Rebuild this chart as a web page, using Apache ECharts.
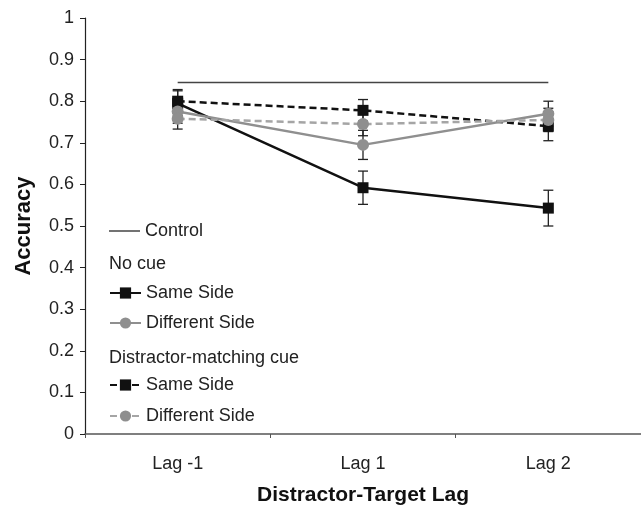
<!DOCTYPE html>
<html>
<head>
<meta charset="utf-8">
<script src="https://cdn.jsdelivr.net/npm/echarts@6/dist/echarts.min.js"></script>
<style>
  html, body { margin: 0; padding: 0; background: #fff; }
  #chart { width: 641px; height: 511px; }
</style>
</head>
<body>
<div id="chart"></div>
<script>
const lags = ['Lag -1', 'Lag 1', 'Lag 2'];

// accuracy per lag
const control = [0.845, 0.845, 0.845];
const noCueSame = [0.795, 0.592, 0.543];
const noCueSameErr = [0.03, 0.04, 0.043];
const noCueDiff = [0.775, 0.695, 0.77];
const noCueDiffErr = [0.028, 0.035, 0.03];
const cueSame = [0.80, 0.778, 0.74];
const cueSameErr = [0.028, 0.026, 0.035];
const cueDiff = [0.758, 0.745, 0.755];
const cueDiffErr = [0.025, 0.028, 0.028];

const font = 'Liberation Sans, Arial, sans-serif';
const black = '#111';
const grey = '#8f8f8f';

function errData(vals, errs) {
  return vals.map((v, i) => [i, v - errs[i], v + errs[i]]);
}

function errorBars(name, vals, errs) {
  return {
    name: name + ' err',
    type: 'custom',
    data: errData(vals, errs),
    z: 1,
    silent: true,
    renderItem: (params, api) => {
      const lo = api.coord([api.value(0), api.value(1)]);
      const hi = api.coord([api.value(0), api.value(2)]);
      const w = 5;
      const style = { stroke: '#222', lineWidth: 1.3 };
      return {
        type: 'group',
        children: [
          { type: 'line', shape: { x1: lo[0], y1: lo[1], x2: hi[0], y2: hi[1] }, style },
          { type: 'line', shape: { x1: lo[0] - w, y1: lo[1], x2: lo[0] + w, y2: lo[1] }, style },
          { type: 'line', shape: { x1: hi[0] - w, y1: hi[1], x2: hi[0] + w, y2: hi[1] }, style }
        ]
      };
    }
  };
}

const chart = echarts.init(document.getElementById('chart'));

const legendText = { fontFamily: font, fontSize: 18, color: '#222' };

const option = {
  animation: false,
  backgroundColor: '#fff',
  grid: { left: 85, right: 0, top: 18, bottom: 74 },
  legend: [
    {
      data: [{ name: 'Control', icon: 'rect', itemStyle: { color: '#444' } }],
      orient: 'vertical', left: 109, top: 222, padding: 0,
      itemWidth: 31, itemHeight: 1.5, textStyle: legendText, selectedMode: false
    },
    {
      data: ['No cue Same Side', 'No cue Different Side'], orient: 'vertical', left: 109, top: 284, padding: 0,
      itemWidth: 31, itemHeight: 14, itemGap: 12, textStyle: legendText, selectedMode: false,
      formatter: n => n.replace('No cue ', '')
    },
    {
      data: ['Cue Same Side', 'Cue Different Side'], orient: 'vertical', left: 109, top: 376, padding: 0,
      itemWidth: 31, itemHeight: 14, itemGap: 13, textStyle: legendText, selectedMode: false,
      formatter: n => n.replace('Cue ', '')
    }
  ],
  graphic: [
    { type: 'text', left: 109, top: 255, style: { text: 'No cue', font: '18px ' + font, fill: '#222' } },
    { type: 'text', left: 109, top: 349, style: { text: 'Distractor-matching cue', font: '18px ' + font, fill: '#222' } }
  ],
  xAxis: {
    type: 'category',
    data: lags,
    name: 'Distractor-Target Lag',
    nameLocation: 'middle',
    nameGap: 51,
    nameTextStyle: { fontFamily: font, fontSize: 21, fontWeight: 'bold', color: '#111' },
    axisLine: { lineStyle: { color: '#555', width: 1.5 } },
    axisTick: { show: true, length: 4, lineStyle: { color: '#555' } },
    axisLabel: { fontFamily: font, fontSize: 18, color: '#222', margin: 21 }
  },
  yAxis: {
    type: 'value',
    min: 0,
    max: 1,
    interval: 0.1,
    name: 'Accuracy',
    nameLocation: 'middle',
    nameGap: 50,
    nameTextStyle: { fontFamily: font, fontSize: 22, fontWeight: 'bold', color: '#111' },
    axisLine: { show: true, lineStyle: { color: '#222', width: 1.2 } },
    axisTick: { show: true, length: 5, lineStyle: { color: '#222' } },
    axisLabel: { fontFamily: font, fontSize: 18, color: '#222', margin: 11, formatter: v => String(Math.round(v * 10) / 10) },
    splitLine: { show: false }
  },
  series: [
    {
      name: 'Control', type: 'line', data: control, symbol: 'none',
      lineStyle: { color: '#444', width: 1.5 }, itemStyle: { color: '#444' }, z: 2
    },
    errorBars('No cue Same Side', noCueSame, noCueSameErr),
    errorBars('Cue Same Side', cueSame, cueSameErr),
    errorBars('No cue Different Side', noCueDiff, noCueDiffErr),
    errorBars('Cue Different Side', cueDiff, cueDiffErr),
    {
      name: 'No cue Same Side', type: 'line', data: noCueSame, symbol: 'rect', symbolSize: 11,
      lineStyle: { color: black, width: 2.5 }, itemStyle: { color: black }, z: 3
    },
    {
      name: 'Cue Same Side', type: 'line', data: cueSame, symbol: 'rect', symbolSize: 11,
      lineStyle: { color: black, width: 2.5, type: [7, 4] }, itemStyle: { color: black }, z: 3
    },
    {
      name: 'No cue Different Side', type: 'line', data: noCueDiff, symbol: 'circle', symbolSize: 12,
      lineStyle: { color: grey, width: 2.5 }, itemStyle: { color: grey }, z: 4
    },
    {
      name: 'Cue Different Side', type: 'line', data: cueDiff, symbol: 'circle', symbolSize: 12,
      lineStyle: { color: '#a5a5a5', width: 2.5, type: [7, 4] }, itemStyle: { color: grey }, z: 4
    }
  ]
};

chart.setOption(option);
</script>
</body>
</html>
